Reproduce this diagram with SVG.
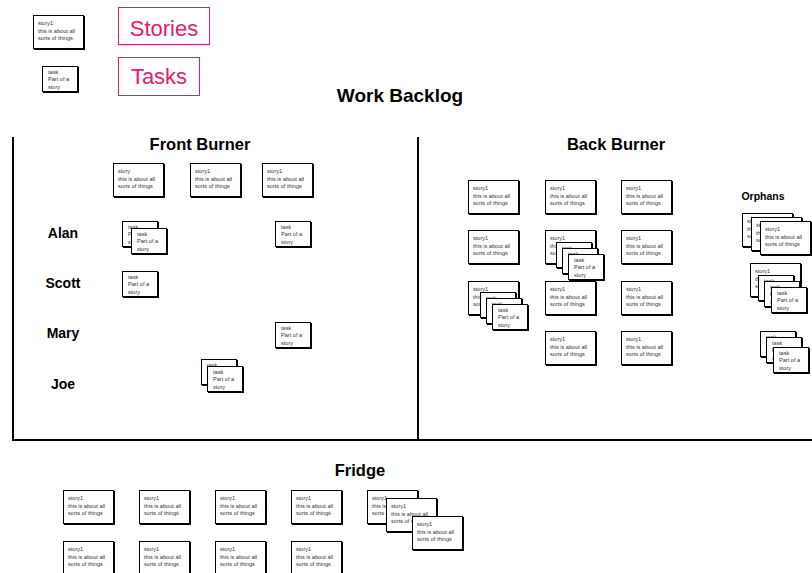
<svg xmlns="http://www.w3.org/2000/svg" width="812" height="573" viewBox="0 0 812 573">
<style>
.sh{fill:#000}
.c{fill:#fff;stroke:#000;stroke-width:1}
.t{font-family:"Liberation Sans",Arial,sans-serif;font-size:5.6px;fill:#333}
.h{font-family:"Liberation Sans",Arial,sans-serif;font-weight:bold;fill:#000;text-anchor:middle}
.lg{fill:#fff;stroke:#e8196f;stroke-width:1}
.lt{font-family:"Liberation Sans",Arial,sans-serif;font-size:22px;fill:#e8196f;text-anchor:middle}
.ln{stroke:#000;stroke-width:2;fill:none}
</style>
<rect width="812" height="573" fill="#fff"/>
<g id="frames">
<line class="ln" x1="13" y1="137" x2="13" y2="440"/>
<line class="ln" x1="418" y1="137" x2="418" y2="440"/>
<line class="ln" x1="12" y1="440" x2="812" y2="440"/>
</g>
<g id="titles">
<text class="h" x="400" y="102" font-size="19">Work Backlog</text>
<text class="h" x="200" y="150" font-size="16.5">Front Burner</text>
<text class="h" x="616" y="150" font-size="16.5">Back Burner</text>
<text class="h" x="360" y="476" font-size="16.5">Fridge</text>
<text x="763" y="200" font-family="Liberation Sans,Arial,sans-serif" font-size="10.5" font-weight="bold" text-anchor="middle">Orphans</text>
<text class="h" x="63" y="238" font-size="14">Alan</text>
<text class="h" x="63" y="288" font-size="14">Scott</text>
<text class="h" x="63" y="338" font-size="14">Mary</text>
<text class="h" x="63" y="389" font-size="14">Joe</text>
</g>
<g id="legend-stories"><rect class="lg" x="118.5" y="7.5" width="91" height="37"/><text class="lt" x="164" y="36">Stories</text></g>
<g id="legend-tasks"><rect class="lg" x="118.5" y="57.5" width="81" height="38"/><text class="lt" x="159" y="84">Tasks</text></g>
<g id="legend-story-card" transform="translate(33,15)"><rect class="sh" x="1" y="1" width="51" height="34"/><rect class="c" x="0.5" y="0.5" width="50" height="33"/><text class="t"><tspan x="5" y="10">story1</tspan><tspan x="5" y="17.5">this is about all</tspan><tspan x="5" y="25">sorts of things</tspan></text></g>
<g id="legend-task-card" transform="translate(42,66)"><rect class="sh" x="1" y="1" width="36" height="26"/><rect class="c" x="0.5" y="0.5" width="35" height="25"/><text class="t"><tspan x="6" y="7.5">task</tspan><tspan x="6" y="15">Part of a</tspan><tspan x="6" y="22.5">story</tspan></text></g>

<g id="fb-story-1" transform="translate(113,163)"><rect class="sh" x="1" y="1" width="51" height="34"/><rect class="c" x="0.5" y="0.5" width="50" height="33"/><text class="t"><tspan x="5" y="10">story</tspan><tspan x="5" y="17.5">this is about all</tspan><tspan x="5" y="25">sorts of things</tspan></text></g>
<g id="fb-story-2" transform="translate(190,163)"><rect class="sh" x="1" y="1" width="51" height="34"/><rect class="c" x="0.5" y="0.5" width="50" height="33"/><text class="t"><tspan x="5" y="10">story1</tspan><tspan x="5" y="17.5">this is about all</tspan><tspan x="5" y="25">sorts of things</tspan></text></g>
<g id="fb-story-3" transform="translate(262,163)"><rect class="sh" x="1" y="1" width="51" height="34"/><rect class="c" x="0.5" y="0.5" width="50" height="33"/><text class="t"><tspan x="5" y="10">story1</tspan><tspan x="5" y="17.5">this is about all</tspan><tspan x="5" y="25">sorts of things</tspan></text></g>

<g id="alan-task-1" transform="translate(122,221)"><rect class="sh" x="1" y="1" width="36" height="26"/><rect class="c" x="0.5" y="0.5" width="35" height="25"/><text class="t"><tspan x="6" y="7.5">task</tspan><tspan x="6" y="15">Part of a</tspan><tspan x="6" y="22.5">story</tspan></text></g>
<g id="alan-task-2" transform="translate(131,228)"><rect class="sh" x="1" y="1" width="36" height="26"/><rect class="c" x="0.5" y="0.5" width="35" height="25"/><text class="t"><tspan x="6" y="7.5">task</tspan><tspan x="6" y="15">Part of a</tspan><tspan x="6" y="22.5">story</tspan></text></g>
<g id="alan-task-3" transform="translate(275,221)"><rect class="sh" x="1" y="1" width="36" height="26"/><rect class="c" x="0.5" y="0.5" width="35" height="25"/><text class="t"><tspan x="6" y="7.5">task</tspan><tspan x="6" y="15">Part of a</tspan><tspan x="6" y="22.5">story</tspan></text></g>
<g id="scott-task-1" transform="translate(122,271)"><rect class="sh" x="1" y="1" width="36" height="26"/><rect class="c" x="0.5" y="0.5" width="35" height="25"/><text class="t"><tspan x="6" y="7.5">task</tspan><tspan x="6" y="15">Part of a</tspan><tspan x="6" y="22.5">story</tspan></text></g>
<g id="mary-task-1" transform="translate(275,322)"><rect class="sh" x="1" y="1" width="36" height="26"/><rect class="c" x="0.5" y="0.5" width="35" height="25"/><text class="t"><tspan x="6" y="7.5">task</tspan><tspan x="6" y="15">Part of a</tspan><tspan x="6" y="22.5">story</tspan></text></g>
<g id="joe-task-1" transform="translate(201,359)"><rect class="sh" x="1" y="1" width="36" height="26"/><rect class="c" x="0.5" y="0.5" width="35" height="25"/><text class="t"><tspan x="6" y="7.5">task</tspan><tspan x="6" y="15">Part of a</tspan><tspan x="6" y="22.5">story</tspan></text></g>
<g id="joe-task-2" transform="translate(207,366)"><rect class="sh" x="1" y="1" width="36" height="26"/><rect class="c" x="0.5" y="0.5" width="35" height="25"/><text class="t"><tspan x="6" y="7.5">task</tspan><tspan x="6" y="15">Part of a</tspan><tspan x="6" y="22.5">story</tspan></text></g>

<g id="bb-story-r1c1" transform="translate(468,180)"><rect class="sh" x="1" y="1" width="51" height="34"/><rect class="c" x="0.5" y="0.5" width="50" height="33"/><text class="t"><tspan x="5" y="10">story1</tspan><tspan x="5" y="17.5">this is about all</tspan><tspan x="5" y="25">sorts of things</tspan></text></g>
<g id="bb-story-r1c2" transform="translate(545,180)"><rect class="sh" x="1" y="1" width="51" height="34"/><rect class="c" x="0.5" y="0.5" width="50" height="33"/><text class="t"><tspan x="5" y="10">story1</tspan><tspan x="5" y="17.5">this is about all</tspan><tspan x="5" y="25">sorts of things</tspan></text></g>
<g id="bb-story-r1c3" transform="translate(621,180)"><rect class="sh" x="1" y="1" width="51" height="34"/><rect class="c" x="0.5" y="0.5" width="50" height="33"/><text class="t"><tspan x="5" y="10">story1</tspan><tspan x="5" y="17.5">this is about all</tspan><tspan x="5" y="25">sorts of things</tspan></text></g>
<g id="bb-story-r2c1" transform="translate(468,230)"><rect class="sh" x="1" y="1" width="51" height="34"/><rect class="c" x="0.5" y="0.5" width="50" height="33"/><text class="t"><tspan x="5" y="10">story1</tspan><tspan x="5" y="17.5">this is about all</tspan><tspan x="5" y="25">sorts of things</tspan></text></g>
<g id="bb-story-r2c2" transform="translate(545,230)"><rect class="sh" x="1" y="1" width="51" height="34"/><rect class="c" x="0.5" y="0.5" width="50" height="33"/><text class="t"><tspan x="5" y="10">story1</tspan><tspan x="5" y="17.5">this is about all</tspan><tspan x="5" y="25">sorts of things</tspan></text></g>
<g id="bb-story-r2c3" transform="translate(621,230)"><rect class="sh" x="1" y="1" width="51" height="34"/><rect class="c" x="0.5" y="0.5" width="50" height="33"/><text class="t"><tspan x="5" y="10">story1</tspan><tspan x="5" y="17.5">this is about all</tspan><tspan x="5" y="25">sorts of things</tspan></text></g>
<g id="bb-story-r3c1" transform="translate(468,281)"><rect class="sh" x="1" y="1" width="51" height="34"/><rect class="c" x="0.5" y="0.5" width="50" height="33"/><text class="t"><tspan x="5" y="10">story1</tspan><tspan x="5" y="17.5">this is about all</tspan><tspan x="5" y="25">sorts of things</tspan></text></g>
<g id="bb-story-r3c2" transform="translate(545,281)"><rect class="sh" x="1" y="1" width="51" height="34"/><rect class="c" x="0.5" y="0.5" width="50" height="33"/><text class="t"><tspan x="5" y="10">story1</tspan><tspan x="5" y="17.5">this is about all</tspan><tspan x="5" y="25">sorts of things</tspan></text></g>
<g id="bb-story-r3c3" transform="translate(621,281)"><rect class="sh" x="1" y="1" width="51" height="34"/><rect class="c" x="0.5" y="0.5" width="50" height="33"/><text class="t"><tspan x="5" y="10">story1</tspan><tspan x="5" y="17.5">this is about all</tspan><tspan x="5" y="25">sorts of things</tspan></text></g>
<g id="bb-story-r4c2" transform="translate(545,331)"><rect class="sh" x="1" y="1" width="51" height="34"/><rect class="c" x="0.5" y="0.5" width="50" height="33"/><text class="t"><tspan x="5" y="10">story1</tspan><tspan x="5" y="17.5">this is about all</tspan><tspan x="5" y="25">sorts of things</tspan></text></g>
<g id="bb-story-r4c3" transform="translate(621,331)"><rect class="sh" x="1" y="1" width="51" height="34"/><rect class="c" x="0.5" y="0.5" width="50" height="33"/><text class="t"><tspan x="5" y="10">story1</tspan><tspan x="5" y="17.5">this is about all</tspan><tspan x="5" y="25">sorts of things</tspan></text></g>
<g id="bb-task-a1" transform="translate(556,242)"><rect class="sh" x="1" y="1" width="36" height="26"/><rect class="c" x="0.5" y="0.5" width="35" height="25"/><text class="t"><tspan x="6" y="7.5">task</tspan><tspan x="6" y="15">Part of a</tspan><tspan x="6" y="22.5">story</tspan></text></g>
<g id="bb-task-a2" transform="translate(562,248)"><rect class="sh" x="1" y="1" width="36" height="26"/><rect class="c" x="0.5" y="0.5" width="35" height="25"/><text class="t"><tspan x="6" y="7.5">task</tspan><tspan x="6" y="15">Part of a</tspan><tspan x="6" y="22.5">story</tspan></text></g>
<g id="bb-task-a3" transform="translate(568,254)"><rect class="sh" x="1" y="1" width="36" height="26"/><rect class="c" x="0.5" y="0.5" width="35" height="25"/><text class="t"><tspan x="6" y="7.5">task</tspan><tspan x="6" y="15">Part of a</tspan><tspan x="6" y="22.5">story</tspan></text></g>
<g id="bb-task-b1" transform="translate(480,292)"><rect class="sh" x="1" y="1" width="36" height="26"/><rect class="c" x="0.5" y="0.5" width="35" height="25"/><text class="t"><tspan x="6" y="7.5">task</tspan><tspan x="6" y="15">Part of a</tspan><tspan x="6" y="22.5">story</tspan></text></g>
<g id="bb-task-b2" transform="translate(486,298)"><rect class="sh" x="1" y="1" width="36" height="26"/><rect class="c" x="0.5" y="0.5" width="35" height="25"/><text class="t"><tspan x="6" y="7.5">task</tspan><tspan x="6" y="15">Part of a</tspan><tspan x="6" y="22.5">story</tspan></text></g>
<g id="bb-task-b3" transform="translate(492,304)"><rect class="sh" x="1" y="1" width="36" height="26"/><rect class="c" x="0.5" y="0.5" width="35" height="25"/><text class="t"><tspan x="6" y="7.5">task</tspan><tspan x="6" y="15">Part of a</tspan><tspan x="6" y="22.5">story</tspan></text></g>

<g id="orph-story-1" transform="translate(742,213)"><rect class="sh" x="1" y="1" width="51" height="34"/><rect class="c" x="0.5" y="0.5" width="50" height="33"/><text class="t"><tspan x="5" y="10">story1</tspan><tspan x="5" y="17.5">this is about all</tspan><tspan x="5" y="25">sorts of things</tspan></text></g>
<g id="orph-story-2" transform="translate(751,217)"><rect class="sh" x="1" y="1" width="51" height="34"/><rect class="c" x="0.5" y="0.5" width="50" height="33"/><text class="t"><tspan x="5" y="10">story1</tspan><tspan x="5" y="17.5">this is about all</tspan><tspan x="5" y="25">sorts of things</tspan></text></g>
<g id="orph-story-3" transform="translate(760,221)"><rect class="sh" x="1" y="1" width="51" height="34"/><rect class="c" x="0.5" y="0.5" width="50" height="33"/><text class="t"><tspan x="5" y="10">story1</tspan><tspan x="5" y="17.5">this is about all</tspan><tspan x="5" y="25">sorts of things</tspan></text></g>
<g id="orph-story-4" transform="translate(750,263)"><rect class="sh" x="1" y="1" width="51" height="34"/><rect class="c" x="0.5" y="0.5" width="50" height="33"/><text class="t"><tspan x="5" y="10">story1</tspan><tspan x="5" y="17.5">this is about all</tspan><tspan x="5" y="25">sorts of things</tspan></text></g>
<g id="orph-task-1" transform="translate(758,275)"><rect class="sh" x="1" y="1" width="36" height="26"/><rect class="c" x="0.5" y="0.5" width="35" height="25"/><text class="t"><tspan x="6" y="7.5">task</tspan><tspan x="6" y="15">Part of a</tspan><tspan x="6" y="22.5">story</tspan></text></g>
<g id="orph-task-2" transform="translate(764,281)"><rect class="sh" x="1" y="1" width="36" height="26"/><rect class="c" x="0.5" y="0.5" width="35" height="25"/><text class="t"><tspan x="6" y="7.5">task</tspan><tspan x="6" y="15">Part of a</tspan><tspan x="6" y="22.5">story</tspan></text></g>
<g id="orph-task-3" transform="translate(771,287)"><rect class="sh" x="1" y="1" width="36" height="26"/><rect class="c" x="0.5" y="0.5" width="35" height="25"/><text class="t"><tspan x="6" y="7.5">task</tspan><tspan x="6" y="15">Part of a</tspan><tspan x="6" y="22.5">story</tspan></text></g>
<g id="orph-task-4" transform="translate(760,331)"><rect class="sh" x="1" y="1" width="36" height="26"/><rect class="c" x="0.5" y="0.5" width="35" height="25"/><text class="t"><tspan x="6" y="7.5">task</tspan><tspan x="6" y="15">Part of a</tspan><tspan x="6" y="22.5">story</tspan></text></g>
<g id="orph-task-5" transform="translate(766,337)"><rect class="sh" x="1" y="1" width="36" height="26"/><rect class="c" x="0.5" y="0.5" width="35" height="25"/><text class="t"><tspan x="6" y="7.5">task</tspan><tspan x="6" y="15">Part of a</tspan><tspan x="6" y="22.5">story</tspan></text></g>
<g id="orph-task-6" transform="translate(773,347)"><rect class="sh" x="1" y="1" width="36" height="26"/><rect class="c" x="0.5" y="0.5" width="35" height="25"/><text class="t"><tspan x="6" y="7.5">task</tspan><tspan x="6" y="15">Part of a</tspan><tspan x="6" y="22.5">story</tspan></text></g>

<g id="fr-story-r1c1" transform="translate(63,490)"><rect class="sh" x="1" y="1" width="51" height="34"/><rect class="c" x="0.5" y="0.5" width="50" height="33"/><text class="t"><tspan x="5" y="10">story1</tspan><tspan x="5" y="17.5">this is about all</tspan><tspan x="5" y="25">sorts of things</tspan></text></g>
<g id="fr-story-r1c2" transform="translate(139,490)"><rect class="sh" x="1" y="1" width="51" height="34"/><rect class="c" x="0.5" y="0.5" width="50" height="33"/><text class="t"><tspan x="5" y="10">story1</tspan><tspan x="5" y="17.5">this is about all</tspan><tspan x="5" y="25">sorts of things</tspan></text></g>
<g id="fr-story-r1c3" transform="translate(215,490)"><rect class="sh" x="1" y="1" width="51" height="34"/><rect class="c" x="0.5" y="0.5" width="50" height="33"/><text class="t"><tspan x="5" y="10">story1</tspan><tspan x="5" y="17.5">this is about all</tspan><tspan x="5" y="25">sorts of things</tspan></text></g>
<g id="fr-story-r1c4" transform="translate(291,490)"><rect class="sh" x="1" y="1" width="51" height="34"/><rect class="c" x="0.5" y="0.5" width="50" height="33"/><text class="t"><tspan x="5" y="10">story1</tspan><tspan x="5" y="17.5">this is about all</tspan><tspan x="5" y="25">sorts of things</tspan></text></g>
<g id="fr-story-r2c1" transform="translate(63,541)"><rect class="sh" x="1" y="1" width="51" height="34"/><rect class="c" x="0.5" y="0.5" width="50" height="33"/><text class="t"><tspan x="5" y="10">story1</tspan><tspan x="5" y="17.5">this is about all</tspan><tspan x="5" y="25">sorts of things</tspan></text></g>
<g id="fr-story-r2c2" transform="translate(139,541)"><rect class="sh" x="1" y="1" width="51" height="34"/><rect class="c" x="0.5" y="0.5" width="50" height="33"/><text class="t"><tspan x="5" y="10">story1</tspan><tspan x="5" y="17.5">this is about all</tspan><tspan x="5" y="25">sorts of things</tspan></text></g>
<g id="fr-story-r2c3" transform="translate(215,541)"><rect class="sh" x="1" y="1" width="51" height="34"/><rect class="c" x="0.5" y="0.5" width="50" height="33"/><text class="t"><tspan x="5" y="10">story1</tspan><tspan x="5" y="17.5">this is about all</tspan><tspan x="5" y="25">sorts of things</tspan></text></g>
<g id="fr-story-r2c4" transform="translate(291,541)"><rect class="sh" x="1" y="1" width="51" height="34"/><rect class="c" x="0.5" y="0.5" width="50" height="33"/><text class="t"><tspan x="5" y="10">story1</tspan><tspan x="5" y="17.5">this is about all</tspan><tspan x="5" y="25">sorts of things</tspan></text></g>
<g id="fr-stack-1" transform="translate(367,490)"><rect class="sh" x="1" y="1" width="51" height="34"/><rect class="c" x="0.5" y="0.5" width="50" height="33"/><text class="t"><tspan x="5" y="10">story1</tspan><tspan x="5" y="17.5">this is about all</tspan><tspan x="5" y="25">sorts of things</tspan></text></g>
<g id="fr-stack-2" transform="translate(386,498)"><rect class="sh" x="1" y="1" width="51" height="34"/><rect class="c" x="0.5" y="0.5" width="50" height="33"/><text class="t"><tspan x="5" y="10">story1</tspan><tspan x="5" y="17.5">this is about all</tspan><tspan x="5" y="25">sorts of things</tspan></text></g>
<g id="fr-stack-3" transform="translate(412,516)"><rect class="sh" x="1" y="1" width="51" height="34"/><rect class="c" x="0.5" y="0.5" width="50" height="33"/><text class="t"><tspan x="5" y="10">story1</tspan><tspan x="5" y="17.5">this is about all</tspan><tspan x="5" y="25">sorts of things</tspan></text></g>
</svg>
